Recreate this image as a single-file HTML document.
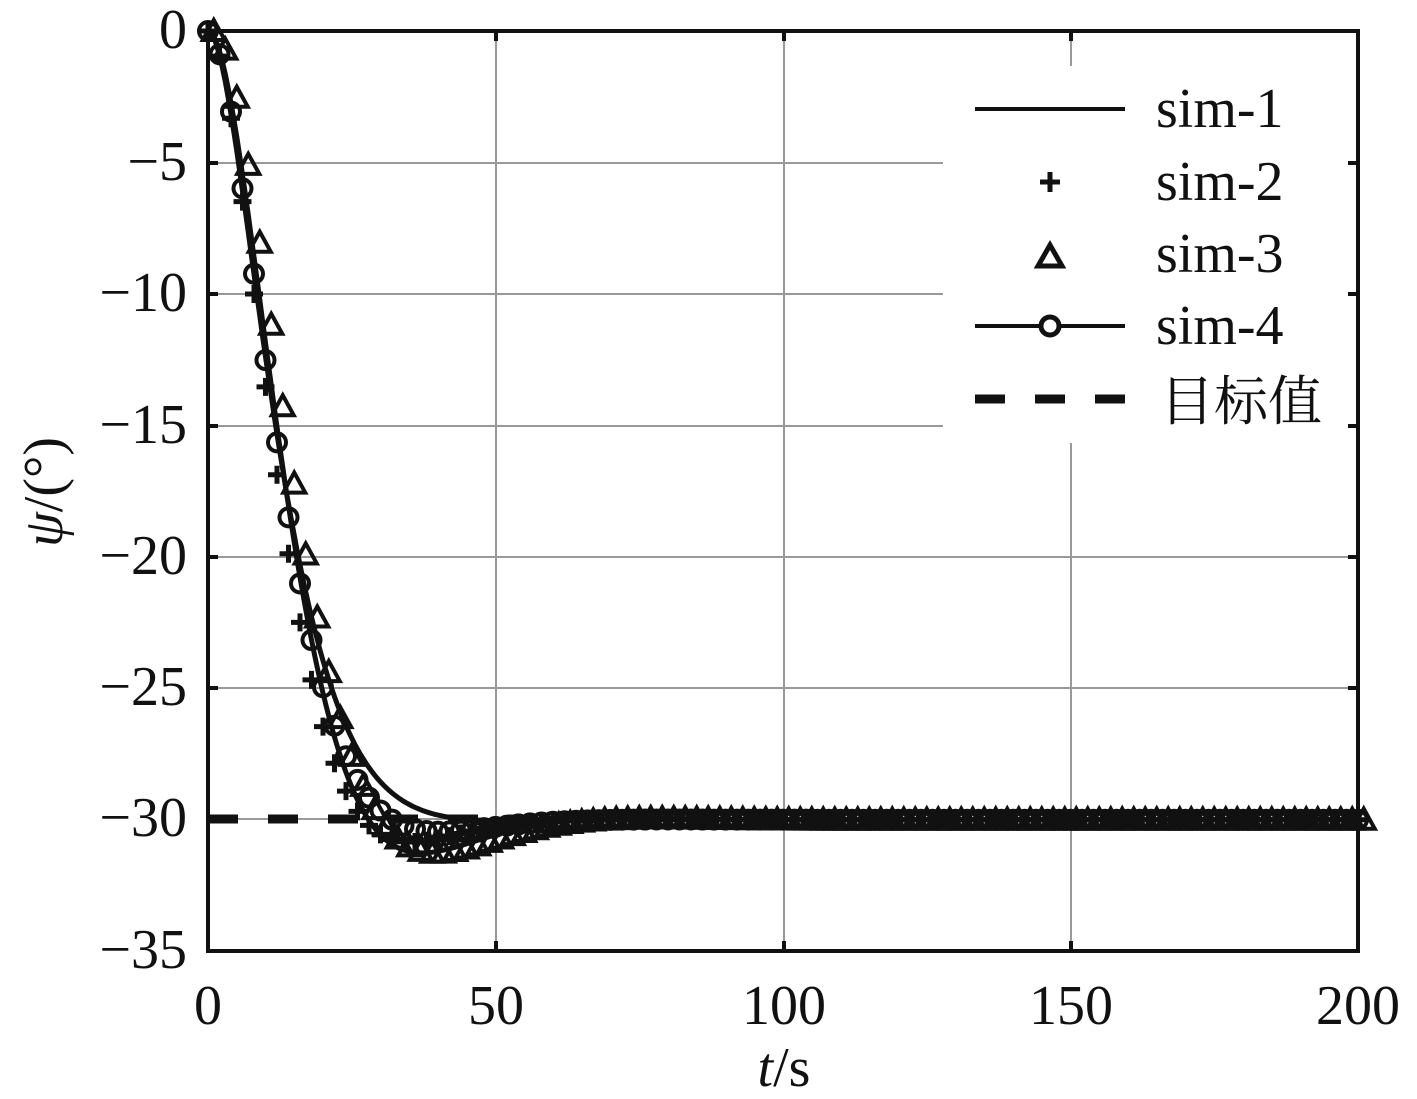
<!DOCTYPE html>
<html><head><meta charset="utf-8"><style>
body{margin:0;background:#fff}
svg text{font-family:"Liberation Serif","Noto Serif CJK SC",serif;fill:#111}
</style></head><body>
<svg id="s" width="1417" height="1094" xmlns="http://www.w3.org/2000/svg">
<g stroke="#999" stroke-width="2">
<line x1="496" y1="31" x2="496" y2="951"/><line x1="784" y1="31" x2="784" y2="951"/><line x1="1071" y1="31" x2="1071" y2="951"/>
<line x1="208" y1="163" x2="1358" y2="163"/><line x1="208" y1="294" x2="1358" y2="294"/><line x1="208" y1="426" x2="1358" y2="426"/>
<line x1="208" y1="557" x2="1358" y2="557"/><line x1="208" y1="688" x2="1358" y2="688"/><line x1="208" y1="819" x2="1358" y2="819"/>
</g>
<g id="curves"></g>
<rect x="943" y="66" width="411" height="377" fill="#fff"/>
<g stroke="#111" stroke-width="4">
<line x1="975" y1="109" x2="1125" y2="109"/>
<line x1="975" y1="326" x2="1125" y2="326"/>
<line x1="975" y1="399" x2="1125" y2="399" stroke-width="9" stroke-dasharray="30 30"/>
<line x1="1040" y1="182" x2="1060" y2="182" stroke-width="5"/><line x1="1050" y1="172" x2="1050" y2="192" stroke-width="5"/>
<polygon points="1050,245 1062,266 1038,266" fill="none" stroke-width="5"/>
<circle cx="1050" cy="326" r="9" fill="#fff" stroke-width="5"/>
</g>
<g font-size="56">
<text x="1156" y="127">sim-1</text><text x="1156" y="200">sim-2</text><text x="1156" y="272">sim-3</text><text x="1156" y="344">sim-4</text>
<text x="1160" y="420" font-size="54">目标值</text>
</g>
<g stroke="#111" stroke-width="4">
<rect x="208" y="31" width="1150" height="920" fill="none"/>
<path d="M208,163h10M208,294h10M208,426h10M208,557h10M208,688h10M208,819h10M1358,163h-10M1358,294h-10M1358,426h-10M1358,557h-10M1358,688h-10M1358,819h-10M496,951v-10M784,951v-10M1071,951v-10M496,31v10M784,31v10M1071,31v10"/>
</g>
<g font-size="56" text-anchor="end">
<text x="187" y="48">0</text><text x="187" y="180">−5</text><text x="187" y="311">−10</text><text x="187" y="443">−15</text>
<text x="187" y="574">−20</text><text x="187" y="705">−25</text><text x="187" y="836">−30</text><text x="187" y="968">−35</text>
</g>
<g font-size="56" text-anchor="middle">
<text x="208" y="1024">0</text><text x="496" y="1024">50</text><text x="784" y="1024">100</text><text x="1071" y="1024">150</text><text x="1358" y="1024">200</text>
<text x="784" y="1086"><tspan font-style="italic">t</tspan>/s</text>
</g>
<text transform="translate(62,492) rotate(-90)" font-size="56" text-anchor="middle"><tspan font-style="italic">ψ</tspan>/(°)</text>
</svg>
<script>
function step(t,z,w){if(t<=0)return 0;var wd=w*Math.sqrt(1-z*z);return 1-Math.exp(-z*w*t)*(Math.cos(wd*t)+z*w/wd*Math.sin(wd*t));}
function X(t){return 208+t*5.75}function Y(v){return 31-v*26.29}
var g=document.getElementById('curves'),h='';
h+='<line x1="208" y1="819" x2="1358" y2="819" stroke="#111" stroke-width="9" stroke-dasharray="30 30"/>';
function path(z,w,sw){var d='';for(var t=0;t<=200;t+=0.5){d+=(t?'L':'M')+X(t).toFixed(1)+','+Y(-30*step(t,z,w)).toFixed(1);}return '<path d="'+d+'" fill="none" stroke="#111" stroke-width="'+sw+'"/>';}
h+=path(0.71,0.12,5);
h+=path(0.9,0.135,5);
for(var t=0;t<=200;t+=2){var x=X(t),y=Y(-30*step(t,0.75,0.135));
h+='<path d="M'+(x-9)+','+y+'H'+(x+9)+'M'+x+','+(y-9)+'V'+(y+9)+'" stroke="#111" stroke-width="5"/>';}
for(var t=0;t<=200;t+=2){var x=X(t+1),y=Y(-30*step(t,0.71,0.115));
h+='<polygon points="'+x+','+(y-11)+' '+(x+11)+','+(y+9)+' '+(x-11)+','+(y+9)+'" fill="none" stroke="#111" stroke-width="4"/>';}
for(var t=0;t<=200;t+=2){var x=X(t),y=Y(-30*step(t,0.8,0.13));
h+='<circle cx="'+x+'" cy="'+y+'" r="9" fill="none" stroke="#111" stroke-width="4"/>';}
g.innerHTML=h;
</script>
</body></html>
